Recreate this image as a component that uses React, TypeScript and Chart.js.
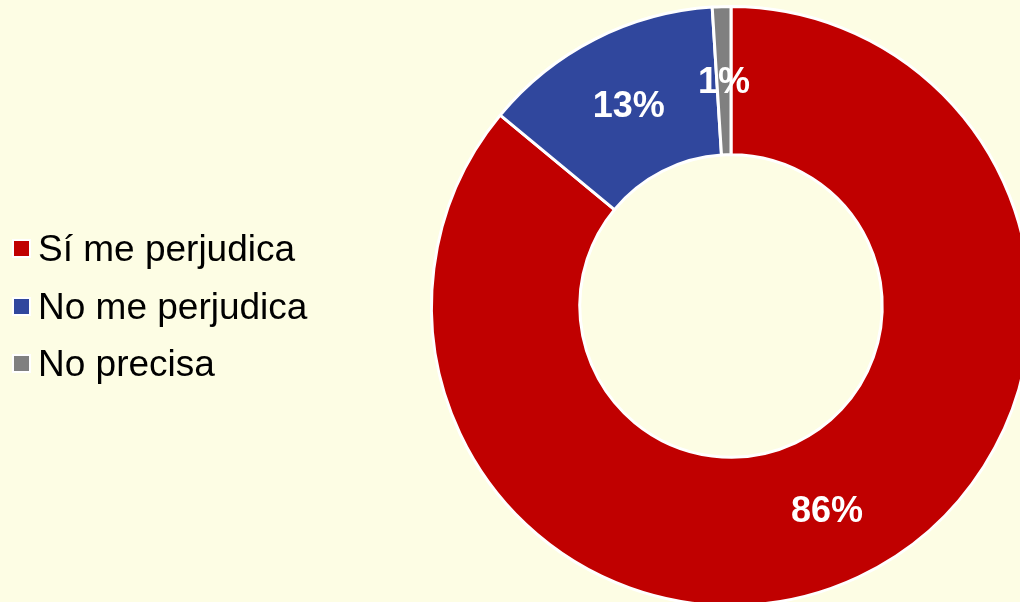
import React, { useEffect, useRef } from "react";
import { Chart, registerables } from "chart.js";

Chart.register(...registerables);

const categories = ["Sí me perjudica", "No me perjudica", "No precisa"];
const values = [86, 13, 1];
const valueLabels = ["86%", "13%", "1%"];
const colors = ["#C00000", "#30479D", "#808080"];

const BG = "#FDFDE4";
const FONT = "'Liberation Sans', Arial, Helvetica, sans-serif";

const legendCenters = [248.5, 306, 363.5];

export default function App() {
  const canvasRef = useRef<HTMLCanvasElement | null>(null);

  useEffect(() => {
    const canvas = canvasRef.current;
    if (!canvas) return;
    const labelPlugin = {
      id: "sliceLabels",
      afterDatasetsDraw(chart: any) {
        const ctx = chart.ctx;
        const meta = chart.getDatasetMeta(0);
        ctx.save();
        ctx.fillStyle = "#FFFFFF";
        ctx.font = `bold 36px ${FONT}`;
        ctx.textAlign = "center";
        ctx.textBaseline = "middle";
        meta.data.forEach((arc: any, i: number) => {
          const p = arc.tooltipPosition();
          ctx.fillText(valueLabels[i], p.x, p.y + 2);
        });
        ctx.restore();
      },
    };
    const chart = new Chart(canvas, {
      type: "doughnut",
      data: {
        labels: categories,
        datasets: [
          {
            data: values,
            backgroundColor: colors,
            borderColor: "#FFFFFF",
            borderWidth: 3,
            hoverOffset: 0,
          },
        ],
      },
      options: {
        responsive: false,
        animation: false,
        devicePixelRatio: 1,
        cutout: "50.5%",
        layout: { padding: { left: 430, right: 28, top: 4, bottom: 12 } },
        plugins: {
          legend: { display: false },
          tooltip: { enabled: false },
        },
      },
      plugins: [labelPlugin],
    });
    return () => chart.destroy();
  }, []);

  return (
    <div
      style={{
        position: "fixed",
        left: 0,
        top: 0,
        width: 1020,
        height: 602,
        overflow: "hidden",
        background: BG,
        fontFamily: FONT,
      }}
    >
      <canvas
        ref={canvasRef}
        width={1060}
        height={620}
        style={{ position: "absolute", left: 0, top: 0, width: 1060, height: 620 }}
      />
      {categories.map((c, i) => (
        <div key={c}>
          <div
            style={{
              position: "absolute",
              left: 12,
              top: legendCenters[i] - 9.5,
              width: 15,
              height: 15,
              background: colors[i],
              border: "2px solid #FFFFFF",
            }}
          />
          <span
            style={{
              position: "absolute",
              left: 38,
              top: legendCenters[i] - 18.1,
              fontSize: 37,
              lineHeight: "37px",
              color: "#000000",
              whiteSpace: "nowrap",
            }}
          >
            {c}
          </span>
        </div>
      ))}
    </div>
  );
}
